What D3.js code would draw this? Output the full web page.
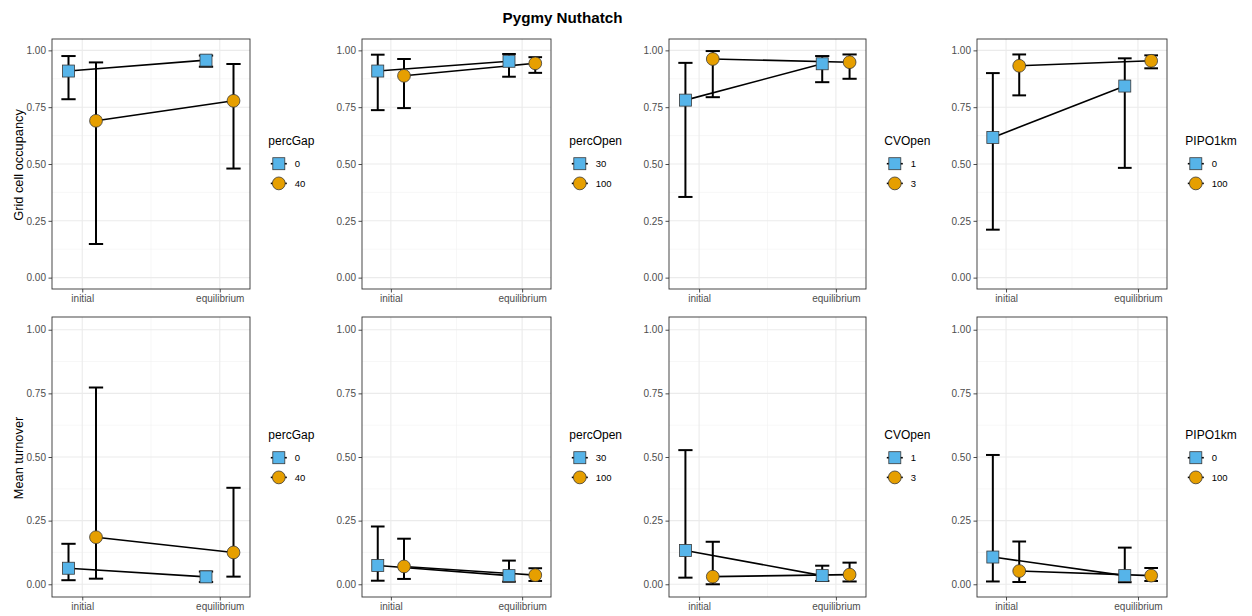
<!DOCTYPE html>
<html>
<head>
<meta charset="utf-8">
<script src="https://cdn.jsdelivr.net/npm/d3@7"></script>
<style>
  html, body { margin: 0; padding: 0; background: #fff; }
  svg { display: block; font-family: "Liberation Sans", Arial, sans-serif; }
</style>
</head>
<body>
<svg id="chart" width="1252" height="616"></svg>
<script>
// Pygmy Nuthatch: occupancy and turnover by habitat factor, initial vs equilibrium
const stages = ["initial", "equilibrium"];
const factors = ["percGap", "percOpen", "CVOpen", "PIPO1km"];
const levels = [["0", "40"], ["30", "100"], ["1", "3"], ["0", "100"]];
const yTicks = [0, 0.25, 0.5, 0.75, 1];
const rowTitles = ["Grid cell occupancy", "Mean turnover"];

// [factor][level][stage]
const occMean = [
  [[0.909, 0.957], [0.690, 0.778]],
  [[0.909, 0.952], [0.888, 0.943]],
  [[0.781, 0.941], [0.962, 0.948]],
  [[0.617, 0.843], [0.932, 0.954]]
];
const occLo = [
  [[0.785, 0.928], [0.148, 0.480]],
  [[0.737, 0.884], [0.746, 0.901]],
  [[0.355, 0.860], [0.794, 0.875]],
  [[0.211, 0.483], [0.802, 0.921]]
];
const occHi = [
  [[0.975, 0.977], [0.947, 0.940]],
  [[0.981, 0.984], [0.962, 0.970]],
  [[0.945, 0.975], [0.997, 0.982]],
  [[0.900, 0.965], [0.982, 0.978]]
];
const turnMean = [
  [[0.063, 0.029], [0.185, 0.125]],
  [[0.074, 0.034], [0.070, 0.036]],
  [[0.133, 0.034], [0.030, 0.038]],
  [[0.107, 0.034], [0.052, 0.034]]
];
const turnLo = [
  [[0.016, 0.009], [0.022, 0.030]],
  [[0.014, 0.010], [0.021, 0.013]],
  [[0.026, 0.013], [0.000, 0.011]],
  [[0.011, 0.008], [0.009, 0.013]]
];
const turnHi = [
  [[0.159, 0.050], [0.773, 0.379]],
  [[0.227, 0.093], [0.179, 0.063]],
  [[0.527, 0.073], [0.167, 0.085]],
  [[0.508, 0.144], [0.168, 0.064]]
];

const fills = ["#56B4E9", "#E69F00"];
const svg = d3.select("#chart");

// title
svg.append("text")
  .attr("x", 562.5).attr("y", 23)
  .attr("text-anchor", "middle")
  .attr("font-size", 15.2).attr("font-weight", "bold")
  .attr("fill", "#000")
  .text("Pygmy Nuthatch");

// panel frames per column and row
const colX = [[52, 250], [362, 551], [669, 866], [977, 1167]];
const rowY = [[39, 289], [317, 597]];
const legendY = [145, 439];
const rows = [
  { mean: occMean, lo: occLo, hi: occHi },
  { mean: turnMean, lo: turnLo, hi: turnHi }
];

const dodge = 0.1, capHalf = 0.052;

function drawSymbol(g, lv, cx, cy) {
  if (lv === 0) {
    g.append("rect")
      .attr("x", cx - 6).attr("y", cy - 6)
      .attr("width", 12).attr("height", 12)
      .attr("fill", fills[0]).attr("stroke", "#3a3a3a").attr("stroke-width", 0.8);
  } else {
    g.append("circle")
      .attr("cx", cx).attr("cy", cy).attr("r", 6.4)
      .attr("fill", fills[1]).attr("stroke", "#3a3a3a").attr("stroke-width", 0.8);
  }
}

rows.forEach((row, r) => {
  // row y-axis title
  const [ry0, ry1] = rowY[r];
  svg.append("text")
    .attr("transform", `translate(23,${(ry0 + ry1) / 2 + 1}) rotate(-90)`)
    .attr("text-anchor", "middle")
    .attr("font-size", 12.8).attr("fill", "#000")
    .text(rowTitles[r]);

  factors.forEach((fac, f) => {
    const [x0, x1] = colX[f];
    const x = d3.scaleLinear().domain([0.78, 2.22]).range([x0, x1]);
    const y = d3.scaleLinear().domain([-0.05, 1.05]).range([ry1, ry0]);
    const g = svg.append("g");

    // minor grid
    [0.125, 0.375, 0.625, 0.875].forEach(v => {
      g.append("line").attr("x1", x0).attr("x2", x1)
        .attr("y1", y(v)).attr("y2", y(v))
        .attr("stroke", "#F2F2F2").attr("stroke-width", 0.6);
    });
    g.append("line").attr("x1", x(1.5)).attr("x2", x(1.5))
      .attr("y1", ry0).attr("y2", ry1)
      .attr("stroke", "#F2F2F2").attr("stroke-width", 0.6);
    // major grid
    yTicks.forEach(v => {
      g.append("line").attr("x1", x0).attr("x2", x1)
        .attr("y1", y(v)).attr("y2", y(v))
        .attr("stroke", "#EBEBEB").attr("stroke-width", 1.1);
    });
    [1, 2].forEach(v => {
      g.append("line").attr("x1", x(v)).attr("x2", x(v))
        .attr("y1", ry0).attr("y2", ry1)
        .attr("stroke", "#EBEBEB").attr("stroke-width", 1.1);
    });

    // axes
    const ya = g.append("g").attr("transform", `translate(${x0},0)`)
      .call(d3.axisLeft(y).tickValues(yTicks).tickFormat(d3.format(".2f")).tickSize(3.5).tickPadding(2.5));
    const xa = g.append("g").attr("transform", `translate(0,${ry1})`)
      .call(d3.axisBottom(x).tickValues([1, 2]).tickFormat((d, i) => stages[i]).tickSize(3.5).tickPadding(2.5));
    [ya, xa].forEach(a => {
      a.select(".domain").remove();
      a.selectAll(".tick line").attr("stroke", "#4D4D4D").attr("stroke-width", 1);
      a.selectAll(".tick text").attr("fill", "#4D4D4D").attr("font-size", 10)
        .attr("font-family", "Liberation Sans, Arial, sans-serif");
    });

    // error bars
    [0, 1].forEach(lv => {
      const off = lv === 0 ? -dodge : dodge;
      [0, 1].forEach(s => {
        const cx = s + 1 + off;
        const lo = y(row.lo[f][lv][s]), hi = y(row.hi[f][lv][s]);
        g.append("line").attr("x1", x(cx)).attr("x2", x(cx)).attr("y1", lo).attr("y2", hi)
          .attr("stroke", "#000").attr("stroke-width", 2);
        [lo, hi].forEach(yy => {
          g.append("line").attr("x1", x(cx - capHalf)).attr("x2", x(cx + capHalf))
            .attr("y1", yy).attr("y2", yy)
            .attr("stroke", "#000").attr("stroke-width", 2);
        });
      });
    });

    // connecting lines
    const line = d3.line().x(d => x(d[0])).y(d => y(d[1]));
    [0, 1].forEach(lv => {
      const off = lv === 0 ? -dodge : dodge;
      const pts = [0, 1].map(s => [s + 1 + off, row.mean[f][lv][s]]);
      g.append("path").attr("d", line(pts))
        .attr("fill", "none").attr("stroke", "#000").attr("stroke-width", 1.6);
    });

    // points
    [0, 1].forEach(lv => {
      const off = lv === 0 ? -dodge : dodge;
      [0, 1].forEach(s => {
        drawSymbol(g, lv, x(s + 1 + off), y(row.mean[f][lv][s]));
      });
    });

    // panel border
    g.append("rect").attr("x", x0).attr("y", ry0)
      .attr("width", x1 - x0).attr("height", ry1 - ry0)
      .attr("fill", "none").attr("stroke", "#333").attr("stroke-width", 0.9);

    // legend
    const lx = x1 + 18.3;
    const ly = legendY[r];
    const lg = svg.append("g");
    lg.append("text").attr("x", lx).attr("y", ly)
      .attr("font-size", 12).attr("fill", "#000").text(fac);
    levels[f].forEach((lab, lv) => {
      const cy = ly + 18.7 + lv * 19.7;
      const kx = lx + 10.5;
      lg.append("line").attr("x1", kx - 8).attr("x2", kx + 8)
        .attr("y1", cy).attr("y2", cy)
        .attr("stroke", "#000").attr("stroke-width", 1.6);
      drawSymbol(lg, lv, kx, cy);
      lg.append("text").attr("x", kx + 16).attr("y", cy + 3.5)
        .attr("font-size", 9.5).attr("fill", "#000").text(lab);
    });
  });
});
</script>
</body>
</html>
